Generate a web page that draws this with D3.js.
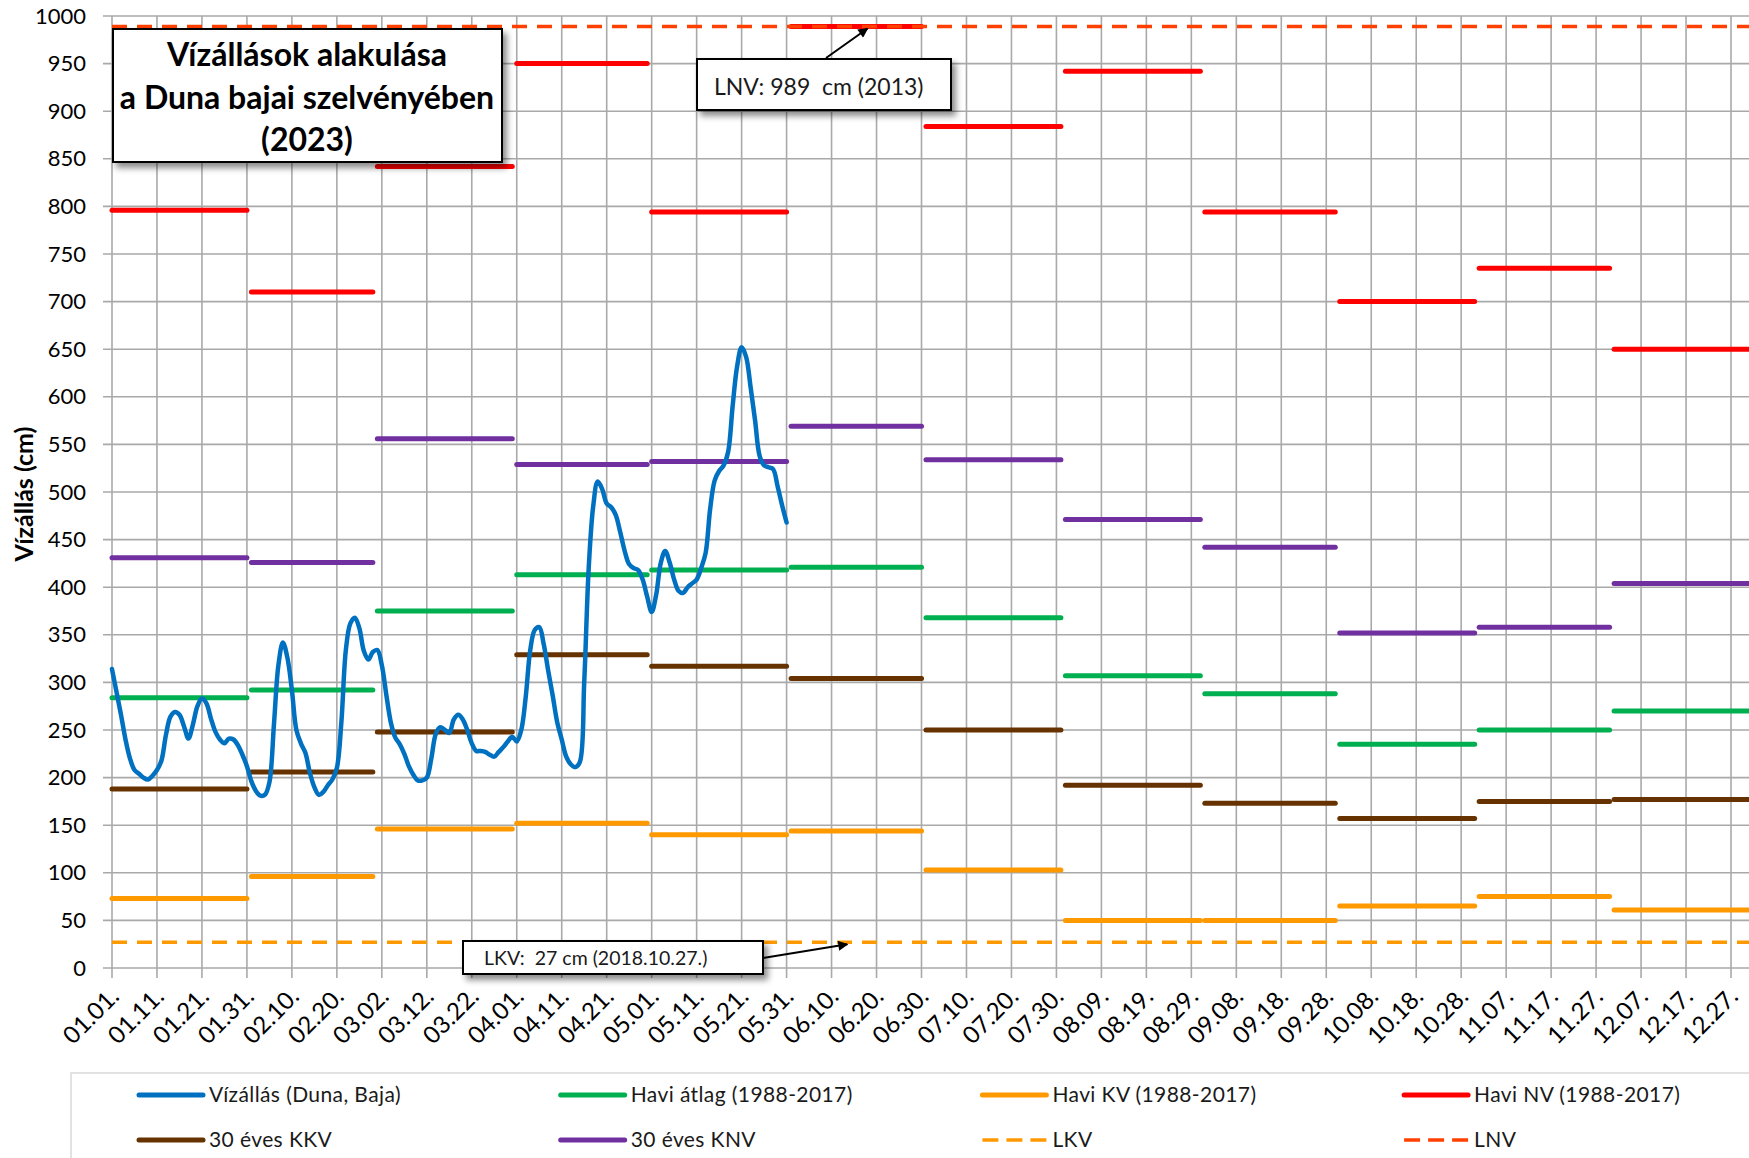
<!DOCTYPE html>
<html>
<head>
<meta charset="utf-8">
<script src="https://cdn.jsdelivr.net/npm/d3@7"></script>
<style>
body { margin: 0; background: #fff; }
svg { display: block; font-family: Lato, "Liberation Sans", sans-serif; }
text { white-space: pre; }
</style>
</head>
<body>
<div id="chart"></div>
<script>
// napok az év elejétől (2023, nem szökőév)
var tickDays = [0, 10, 20, 30, 40, 50, 60, 70, 80, 90, 100, 110, 120, 130, 140, 150, 160, 170, 180,
    190, 200, 210, 220, 230, 240, 250, 260, 270, 280, 290, 300, 310, 320, 330, 340, 350, 360];
var tickLabels = ["01.01.", "01.11.", "01.21.", "01.31.", "02.10.", "02.20.", "03.02.", "03.12.", "03.22.",
    "04.01.", "04.11.", "04.21.", "05.01.", "05.11.", "05.21.", "05.31.", "06.10.", "06.20.", "06.30.",
    "07.10.", "07.20.", "07.30.", "08.09.", "08.19.", "08.29.", "09.08.", "09.18.", "09.28.", "10.08.",
    "10.18.", "10.28.", "11.07.", "11.17.", "11.27.", "12.07.", "12.17.", "12.27."];
var yTicks = [0, 50, 100, 150, 200, 250, 300, 350, 400, 450, 500, 550, 600, 650, 700, 750, 800, 850, 900, 950, 1000];

var monthStart = [0, 31, 59, 90, 120, 151, 181, 212, 243, 273, 304, 334];
var monthEnd = [30, 58, 89, 119, 150, 180, 211, 242, 272, 303, 333, 364];

var haviNV = [796, 710, 842, 950, 794, 989, 884, 942, 794, 700, 735, 650];
var knv30 = [431, 426, 556, 529, 532, 569, 534, 471, 442, 352, 358, 404];
var haviAtlag = [284, 292, 375, 413, 418, 421, 368, 307, 288, 235, 250, 270];
var kkv30 = [188, 206, 248, 329, 317, 304, 250, 192, 173, 157, 175, 177];
var haviKV = [73, 96, 146, 152, 140, 144, 103, 50, 50, 65, 75, 61];
var lkv = 27;
var lnv = 989;

// napi vízállás, 01.01. - 05.31.
var vizallas = [314, 290, 266, 240, 220, 208, 204, 200, 198, 202,
    208, 218, 245, 264, 269, 266, 254, 241, 256, 275,
    283, 278, 262, 248, 240, 236, 241, 240, 234, 224,
    212, 196, 186, 181, 182, 195, 255, 318, 342, 326,
    292, 250, 236, 226, 205, 190, 182, 185, 192, 198,
    210, 258, 334, 362, 368, 357, 333, 324, 332, 334,
    318, 287, 258, 242, 235, 225, 212, 203, 197, 197,
    200, 220, 246, 253, 250, 247, 261, 266, 261, 250,
    236, 228, 228, 227, 224, 222, 227, 232, 238, 243,
    238, 250, 285, 334, 355, 358, 340, 312, 286, 258,
    240, 222, 214, 211, 216, 300, 420, 485, 511, 503,
    488, 484, 476, 458, 438, 424, 420, 418, 408, 390,
    374, 392, 425, 438, 426, 408, 396, 394, 400, 404,
    408, 420, 436, 482, 512, 522, 528, 542, 590, 632,
    652, 642, 610, 575, 538, 528, 526, 524, 506, 486,
    468];

var W = 1749, H = 1158;
var x = d3.scaleLinear().domain([0, 364]).range([112, 1749]);
var y = d3.scaleLinear().domain([0, 1000]).range([968, 16]);

var svg = d3.select("#chart").append("svg").attr("width", W).attr("height", H);
var defs = svg.append("defs");
defs.append("filter").attr("id", "shadow").attr("x", "-10%").attr("y", "-10%").attr("width", "130%").attr("height", "150%")
    .append("feDropShadow").attr("dx", 4).attr("dy", 5).attr("stdDeviation", 3).attr("flood-color", "#000").attr("flood-opacity", 0.45);
defs.append("marker").attr("id", "arrow").attr("viewBox", "0 0 10 10").attr("refX", 9).attr("refY", 5)
    .attr("markerWidth", 6).attr("markerHeight", 5).attr("orient", "auto")
    .append("path").attr("d", "M0,0L10,5L0,10z").attr("fill", "#000");

var grid = "#a9a9a9";

// rács
svg.append("g").selectAll("line").data(yTicks).enter().append("line")
    .attr("x1", x(0) - 9).attr("x2", W).attr("y1", function (d) { return y(d); }).attr("y2", function (d) { return y(d); })
    .attr("stroke", grid).attr("stroke-width", 1.6);
svg.append("g").selectAll("line").data(tickDays).enter().append("line")
    .attr("x1", function (d) { return x(d); }).attr("x2", function (d) { return x(d); })
    .attr("y1", y(1000)).attr("y2", y(0) + 10)
    .attr("stroke", grid).attr("stroke-width", 1.6);

// y tengely
var yAxis = svg.append("g").attr("transform", "translate(" + x(0) + ",0)")
    .call(d3.axisLeft(y).tickValues(yTicks).tickSize(0).tickPadding(26).tickFormat(d3.format("d")));
yAxis.select(".domain").remove();
yAxis.selectAll("text").attr("font-size", 22).attr("fill", "#000").attr("font-family", "Lato");

// x tengely
var xAxis = svg.append("g").attr("transform", "translate(0," + y(0) + ")")
    .call(d3.axisBottom(x).tickValues(tickDays).tickSize(0).tickFormat(function (d, i) { return tickLabels[i]; }));
xAxis.select(".domain").remove();
xAxis.selectAll("text").attr("font-size", 24).attr("fill", "#000").attr("font-family", "Lato")
    .attr("text-anchor", "end").attr("dy", 0).attr("y", 0)
    .attr("transform", "translate(8,30) rotate(-45)");

svg.append("text").attr("transform", "translate(33,494) rotate(-90)").attr("text-anchor", "middle")
    .attr("font-size", 25).attr("font-weight", "bold").attr("fill", "#000").text("Vízállás (cm)");

// szaggatott határvonalak
function hline(val, color) {
    svg.append("line").attr("x1", x(0)).attr("x2", x(364)).attr("y1", y(val)).attr("y2", y(val))
        .attr("stroke", color).attr("stroke-width", 3.5).attr("stroke-dasharray", "15,10");
}

// havi lépcsők
function steps(vals, color) {
    svg.append("g").selectAll("line").data(vals).enter().append("line")
        .attr("x1", function (d, i) { return x(monthStart[i]); })
        .attr("x2", function (d, i) { return x(monthEnd[i]); })
        .attr("y1", function (d) { return y(d); }).attr("y2", function (d) { return y(d); })
        .attr("stroke", color).attr("stroke-width", 5).attr("stroke-linecap", "round");
}

var cRed = "#ff0000", cPurple = "#7030a0", cGreen = "#00b050", cBrown = "#663300", cOrange = "#ff9900",
    cBlue = "#0070c0", cLnv = "#ff4000";

hline(lkv, cOrange);
steps(haviNV, cRed);
steps(knv30, cPurple);
steps(haviAtlag, cGreen);
steps(kkv30, cBrown);
steps(haviKV, cOrange);
hline(lnv, cLnv);

var line = d3.line().x(function (d, i) { return x(i); }).y(function (d) { return y(d); }).curve(d3.curveCatmullRom);
svg.append("path").datum(vizallas).attr("d", line).attr("fill", "none")
    .attr("stroke", cBlue).attr("stroke-width", 4.5).attr("stroke-linejoin", "round").attr("stroke-linecap", "round");

// címdoboz
svg.append("rect").attr("x", 113).attr("y", 29).attr("width", 389).attr("height", 133)
    .attr("fill", "#fff").attr("stroke", "#000").attr("stroke-width", 2).attr("filter", "url(#shadow)");
var title = ["Vízállások alakulása", "a Duna bajai szelvényében", "(2023)"];
svg.selectAll(".title").data(title).enter().append("text").attr("class", "title")
    .attr("x", 307).attr("y", function (d, i) { return 66 + i * 42.5; }).attr("text-anchor", "middle")
    .attr("font-size", 32).attr("font-weight", "bold").attr("fill", "#000").text(function (d) { return d; });

// LNV felirat
svg.append("line").attr("x1", 826).attr("y1", 58).attr("x2", x(168)).attr("y2", y(lnv) + 2)
    .attr("stroke", "#000").attr("stroke-width", 2).attr("marker-end", "url(#arrow)");
svg.append("rect").attr("x", 697).attr("y", 59).attr("width", 254).attr("height", 51)
    .attr("fill", "#fff").attr("stroke", "#000").attr("stroke-width", 2).attr("filter", "url(#shadow)");
svg.append("text").attr("x", 714).attr("y", 95).attr("font-size", 23).attr("fill", "#1a1a1a").text("LNV: 989  cm (2013)");

// LKV felirat
svg.append("line").attr("x1", 763).attr("y1", 958).attr("x2", x(163.5)).attr("y2", y(lkv) + 2)
    .attr("stroke", "#000").attr("stroke-width", 2).attr("marker-end", "url(#arrow)");
svg.append("rect").attr("x", 463).attr("y", 941).attr("width", 300).attr("height", 33)
    .attr("fill", "#fff").attr("stroke", "#000").attr("stroke-width", 2).attr("filter", "url(#shadow)");
svg.append("text").attr("x", 484).attr("y", 965).attr("font-size", 19.5).attr("fill", "#1a1a1a").text("LKV:  27 cm (2018.10.27.)");

// jelmagyarázat
var legendNames = ["Vízállás (Duna, Baja)", "Havi átlag (1988-2017)", "Havi KV (1988-2017)", "Havi NV (1988-2017)",
    "30 éves KKV", "30 éves KNV", "LKV", "LNV"];
var legendColors = [cBlue, cGreen, cOrange, cRed, cBrown, cPurple, cOrange, cLnv];
var legendDash = [false, false, false, false, false, false, true, true];

svg.append("rect").attr("x", 71).attr("y", 1073).attr("width", W).attr("height", 200)
    .attr("fill", "#fff").attr("stroke", "#d9d9d9").attr("stroke-width", 1.5);
var lg = svg.append("g").selectAll("g").data(legendNames).enter().append("g")
    .attr("transform", function (d, i) { return "translate(" + (139 + (i % 4) * 421.7) + "," + (i < 4 ? 1095 : 1140) + ")"; });
lg.append("line").attr("x1", 0).attr("x2", 64).attr("stroke", function (d, i) { return legendColors[i]; })
    .attr("stroke-width", function (d, i) { return legendDash[i] ? 3.5 : 5; })
    .attr("stroke-linecap", function (d, i) { return legendDash[i] ? "butt" : "round"; })
    .attr("stroke-dasharray", function (d, i) { return legendDash[i] ? "16,8" : null; });
lg.append("text").attr("x", 70).attr("y", 7).attr("font-size", 21).attr("letter-spacing", 0.4)
    .attr("fill", "#1a1a1a").text(function (d) { return d; });
</script>
</body>
</html>
